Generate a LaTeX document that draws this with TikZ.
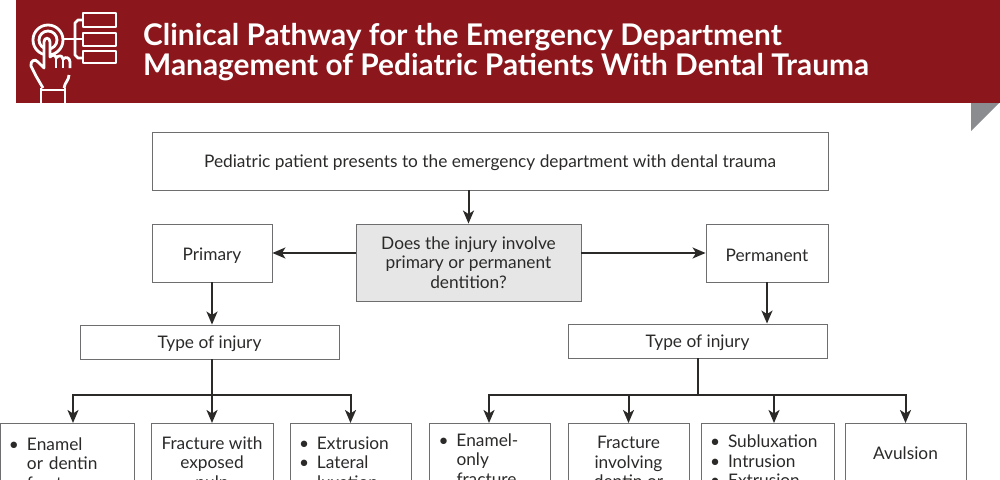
\documentclass[tikz,border=0pt]{standalone}
\usepackage{fontspec}
\setmainfont{Lato}
\usetikzlibrary{arrows.meta}
\definecolor{brandred}{HTML}{8B161B}
\definecolor{foldgray}{HTML}{8A8C8F}
\definecolor{inkline}{HTML}{2B2A29}
\definecolor{boxline}{HTML}{6E6E70}
\definecolor{askfill}{HTML}{E6E6E6}
\newcommand{\bul}[1]{\makebox[18pt][l]{\textbullet}#1}
\newcommand{\ind}[1]{\hspace*{18pt}#1}
\tikzset{
  box/.style={draw=boxline,line width=.9pt,inner sep=0pt,align=center,text=inkline,
    font=\fontsize{17.3}{19.6}\selectfont},
  upperbox/.style={box,execute at begin node={\rule{0pt}{17pt}}},
  askbox/.style={box,fill=askfill,execute at begin node={\rule{0pt}{20pt}}},
  rowbox/.style={box,anchor=north},
  listbox/.style={rowbox,align=left,inner xsep=9pt},
  flow/.style={draw=inkline,line width=2pt,-{Stealth[length=13pt,width=11pt,inset=3.5pt]}},
  bus/.style={draw=inkline,line width=2pt},
  icon/.style={draw=white,line width=2.8pt,line join=round}
}
\begin{document}
\begin{tikzpicture}[x=1pt,y=-1pt]
\useasboundingbox (0,0) rectangle (1000,479);
\clip (0,0) rectangle (1000,479);
% banner
\fill[brandred] (16,0) rectangle (1000,103);
\fill[foldgray] (971,103) -- (999,103) -- (971,131) -- cycle;
\node[anchor=west,text=white,align=left,inner sep=0pt,font=\fontsize{29.85}{30.5}\selectfont\bfseries] (title) at (143,52)
  {Clinical Pathway for the Emergency Department\\Management of Pediatric Patients With Dental Trauma};
% icon
\draw[icon] (83,13) rectangle (116,27);
\draw[icon] (83,33) rectangle (116,46);
\draw[icon] (83,51) rectangle (116,63);
\draw[icon] (83,20) -- (78,20) -- (75,23) -- (75,55) -- (78,58) -- (83,58);
\draw[icon] (62,39) -- (83,39);
\draw[icon] (48,40) circle (15);
\draw[icon] (48,40) circle (9);
\draw[icon,fill=brandred] (43,88) -- (36,76) -- (31,66) .. controls (30,61) and (35,58) .. (38,62)
  -- (44,68) -- (44,42) .. controls (44,37) and (50,37) .. (50,42) -- (50,57)
  .. controls (53,54) and (56,55) .. (56,58) .. controls (59,55) and (62,55) .. (63,59)
  .. controls (66,56) and (70,58) .. (70,62) -- (70,68);
\draw[icon] (69,75) .. controls (69,80) and (65,82) .. (64,88);
\draw[icon] (56,58) -- (56,68);
\draw[icon] (63,59) -- (63,68);
\draw[icon] (41,90) -- (65,90);
\draw[icon] (41,88) -- (41,103);
\draw[icon] (65,88) -- (65,103);
% top of the pathway
\node[upperbox,minimum width=676pt,minimum height=58pt] (present) at (490,161)
  {Pediatric patient presents to the emergency department with dental trauma};
\node[askbox,minimum width=225pt,minimum height=77pt] (dentition) at (468.5,262.5)
  {Does the injury involve\\primary or permanent\\dentition?};
\node[upperbox,minimum width=120pt,minimum height=58pt] (primary) at (212,253) {Primary};
\node[upperbox,minimum width=122pt,minimum height=58pt] (permanent) at (767,253) {Permanent};
\node[upperbox,minimum width=259pt,minimum height=34pt] (typeL) at (209.5,342) {Type of injury};
\node[upperbox,minimum width=259pt,minimum height=34pt] (typeR) at (697.5,341) {Type of injury};
% bottom row
\node[listbox,minimum width=134pt,text width=116pt,minimum height=80pt] (enamelL) at (67,423)
  {\bul{Enamel}\\\ind{or dentin}\\\ind{fracture}};
\node[rowbox,minimum width=122pt,minimum height=81pt] (pulp) at (212,423)
  {Fracture with\\exposed\\pulp};
\node[listbox,minimum width=121pt,text width=103pt,minimum height=78pt] (extrusionL) at (350.5,423)
  {\bul{Extrusion}\\\bul{Lateral}\\\ind{luxation}};
\node[listbox,minimum width=121pt,text width=103pt,minimum height=72pt] (enamelR) at (490,423)
  {\bul{Enamel-}\\\ind{only}\\\ind{fracture}};
\node[rowbox,minimum width=121pt,minimum height=77pt] (dentin) at (628.5,423)
  {Fracture\\involving\\dentin or};
\node[listbox,minimum width=133pt,text width=115pt,minimum height=75pt] (luxR) at (767.5,423)
  {\bul{Subluxation}\\\bul{Intrusion}\\\bul{Extrusion}};
\node[rowbox,minimum width=121pt,minimum height=60pt] (avulsion) at (905.5,423) {Avulsion};
% connectors
\coordinate (busL) at (212,395);
\coordinate (busR) at (697.5,395);
\draw[flow] (dentition.north |- present.south) -- (dentition.north);
\draw[flow] (dentition.west |- primary.east) -- (primary.east);
\draw[flow] (dentition.east |- permanent.west) -- (permanent.west);
\draw[flow] (primary.south) -- (primary.south |- typeL.north);
\draw[flow] (permanent.south) -- (permanent.south |- typeR.north);
\draw[bus] (primary.south |- typeL.south) -- (busL);
\draw[bus] (typeR.south) -- (busR);
\draw[flow] (busL) -| ([xshift=6pt]enamelL.north);
\draw[flow] (busL) -- (pulp.north);
\draw[flow] (busL) -| (extrusionL.north);
\draw[flow] (busR) -| ([xshift=-1pt]enamelR.north);
\draw[flow] (busR) -| (dentin.north);
\draw[flow] (busR) -| ([xshift=6.5pt]luxR.north);
\draw[flow] (busR) -| (avulsion.north);
\end{tikzpicture}
\end{document}
